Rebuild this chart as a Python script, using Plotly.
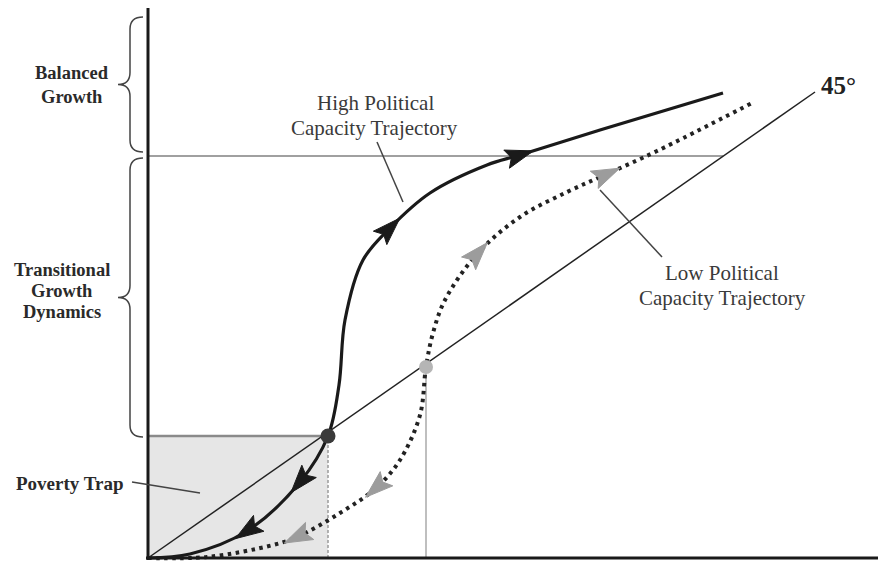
import plotly.graph_objects as go
import numpy as np

# Schematic coordinates (origin at the axes corner, y upward)
high_x = [0, 42, 99, 152, 180, 191, 197, 215, 242, 282, 339, 372, 452, 575]
high_y = [0, 4, 27, 76, 122, 173, 238, 298, 330, 365, 393, 403, 428, 465]
high_arrows_fwd = [8, 11]
high_arrows_back = [3, 2]

low_x = [0, 59, 125, 149, 192, 228, 252, 272, 278, 285, 297, 330, 372, 419, 459, 509, 604]
low_y = [0, 1, 13, 21, 45, 70, 98, 143, 191, 225, 258, 305, 341, 366, 384, 407, 455]
low_arrows_fwd = [11, 14]
low_arrows_back = [5, 3]

diag_x = [0, 667]
diag_y = [0, 466]

trap_x = [0, 180]
trap_y = [0, 122]
low_eq = [278, 191]
balanced_y = 402
balanced_x_end = 575

brace_balanced = [541, 406]
brace_trans = [400, 121]

fig = go.Figure()

# shaded poverty trap
fig.add_shape(type="rect", x0=trap_x[0], y0=trap_y[0], x1=trap_x[1], y1=trap_y[1],
              fillcolor="#e6e6e6", line=dict(width=0), layer="below")


def line(xs, ys, color="#222", width=1.5, dash="solid"):
    fig.add_trace(go.Scatter(x=xs, y=ys, mode="lines",
                             line=dict(color=color, width=width, dash=dash),
                             hoverinfo="skip"))


# box borders & guide lines
line([0, trap_x[1]], [trap_y[1], trap_y[1]], color="#8a8a8a", width=2.5)
line([trap_x[1], trap_x[1]], [0, trap_y[1]], color="#9a9a9a", width=1.5, dash="3px,2px")
line([low_eq[0], low_eq[0]], [0, low_eq[1]], color="#aaaaaa", width=1.5)
line([0, balanced_x_end], [balanced_y, balanced_y], color="#a0a0a0", width=1.8)

# 45 degree line
line(diag_x, diag_y, color="#222", width=1.5)

# trajectories
fig.add_trace(go.Scatter(x=high_x, y=high_y, mode="lines",
                         line=dict(color="#1a1a1a", width=3.2, shape="spline", smoothing=1.0),
                         hoverinfo="skip"))
fig.add_trace(go.Scatter(x=low_x, y=low_y, mode="lines",
                         line=dict(color="#222", width=4, shape="spline", smoothing=1.0, dash="3.5px,4.5px"),
                         hoverinfo="skip"))


def arrows(xs, ys, fwd, back, color, L=28, W=19, notch=5):
    px, py = [], []
    for idxs, sign in ((fwd, 1), (back, -1)):
        for i in idxs:
            dx = xs[i + 1] - xs[i - 1]
            dy = ys[i + 1] - ys[i - 1]
            n = np.hypot(dx, dy)
            dx, dy = sign * dx / n, sign * dy / n
            nx, ny = -dy, dx
            cx, cy = xs[i], ys[i]
            tip = (cx + dx * L / 2, cy + dy * L / 2)
            bx, by = cx - dx * L / 2, cy - dy * L / 2
            left = (bx + nx * W / 2, by + ny * W / 2)
            right = (bx - nx * W / 2, by - ny * W / 2)
            mid = (bx + dx * notch, by + dy * notch)
            for p in (tip, left, mid, right, tip):
                px.append(p[0]); py.append(p[1])
            px.append(None); py.append(None)
    fig.add_trace(go.Scatter(x=px, y=py, mode="lines", fill="toself", fillcolor=color,
                             line=dict(color=color, width=1), hoverinfo="skip"))


arrows(high_x, high_y, high_arrows_fwd, high_arrows_back, "#1a1a1a")
arrows(low_x, low_y, low_arrows_fwd, low_arrows_back, "#9c9c9c")

# equilibrium points
fig.add_trace(go.Scatter(x=[trap_x[1]], y=[trap_y[1]], mode="markers",
                         marker=dict(size=15, color="#3a3a3a"), hoverinfo="skip"))
fig.add_trace(go.Scatter(x=[low_eq[0]], y=[low_eq[1]], mode="markers",
                         marker=dict(size=14, color="#b5b5b5"), hoverinfo="skip"))

# axes
line([0, 0], [-2, 554], color="#1a1a1a", width=3)
line([-2, 738], [0, 0], color="#1a1a1a", width=3)

# leader lines
line([229, 255], [416, 356], color="#444", width=1.5)
line([452, 514], [368, 301], color="#444", width=1.5)
line([-16, 52], [76, 65], color="#444", width=1.5)


# braces
def brace(yt, yb, xe=-5, xb=-18, xt=-30, r=12):
    ym = (yt + yb) / 2
    path = (f"M {xe},{yt} Q {xb},{yt} {xb},{yt - r} L {xb},{ym + r} "
            f"Q {xb},{ym} {xt},{ym} Q {xb},{ym} {xb},{ym - r} "
            f"L {xb},{yb + r} Q {xb},{yb} {xe},{yb}")
    fig.add_shape(type="path", path=path, line=dict(color="#444", width=1.5))


brace(*brace_balanced)
brace(*brace_trans)

serif = "Liberation Serif"
labels = [
    (-76, 485, "<b>Balanced</b>", 18.5, "#2a2a2a"),
    (-76, 461, "<b>Growth</b>", 18.5, "#2a2a2a"),
    (-86, 288, "<b>Transitional</b>", 18.5, "#2a2a2a"),
    (-86, 267, "<b>Growth</b>", 18.5, "#2a2a2a"),
    (-86, 246, "<b>Dynamics</b>", 18.5, "#2a2a2a"),
    (-79, 75, "<b>Poverty Trap</b>", 19, "#2a2a2a"),
    (227, 455, "High Political", 21, "#3a3a3a"),
    (226, 430, "Capacity Trajectory", 21, "#3a3a3a"),
    (574, 285, "Low Political", 21, "#3a3a3a"),
    (574, 260, "Capacity Trajectory", 21, "#3a3a3a"),
    (690, 473, "<b>45°</b>", 25, "#222"),
]
for x, y, t, s, c in labels:
    fig.add_annotation(x=x, y=y, text=t, showarrow=False,
                       font=dict(family=serif, size=s, color=c),
                       xanchor="center", yanchor="middle")

# page body has an 8px margin: figure sits at (8,8) in an 886x572 window
fig.update_layout(width=878, height=564, margin=dict(l=0, r=0, t=0, b=0),
                  showlegend=False, plot_bgcolor="white", paper_bgcolor="white",
                  xaxis=dict(range=[-140, 738], visible=False, fixedrange=True),
                  yaxis=dict(range=[-14, 550], visible=False, fixedrange=True))

fig.write_html("out.html")
